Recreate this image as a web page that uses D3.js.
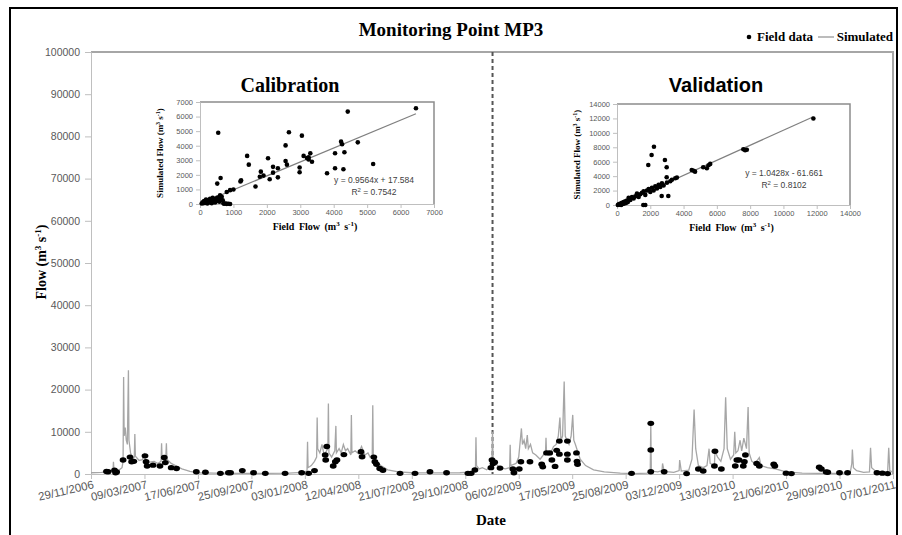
<!DOCTYPE html>
<html>
<head>
<meta charset="utf-8">
<script src="https://cdn.jsdelivr.net/npm/d3@7"></script>
<style>
  body { margin: 0; background: #fff; }
  svg { display: block; }
  .serif { font-family: "Liberation Serif", "Times New Roman", serif; font-weight: bold; fill: #000; }
  .tick text { font-family: "Liberation Sans", Arial, sans-serif; fill: #595959; }
  .domain, .tick line { stroke: #bfbfbf; }
</style>
</head>
<body>
<svg id="chart" width="902" height="535"></svg>
<script>
// ---- data ----
// simulated flow: [days since 29/11/2006, m3/s]
const simulated = [
  [0,300],[20,400],[35,600],[41,500],[42,2900],[43,900],[50,700],[58,1500],[60,3000],[61,23000],[62,9000],
  [64,11000],[66,8000],[68,7000],[70,24600],[71,8000],[74,5000],[78,3500],[81,4000],[82,9500],[83,4200],
  [90,3200],[96,3400],[100,4600],[102,3000],[110,2800],[118,3000],[125,2500],[131,3000],[132,7300],[133,3500],
  [138,3400],[140,4000],[141,7300],[142,3500],[150,2500],[158,2000],[170,1200],[185,600],[200,300],[230,200],
  [280,150],[330,150],[370,200],[395,400],[404,700],[405,7650],[406,1500],[412,2000],[418,3000],[422,4000],
  [423,13400],[424,6000],[428,5000],[432,7000],[436,4500],[443,6000],[444,16700],[445,5000],[450,4000],
  [456,5500],[458,11400],[459,5000],[464,6000],[468,5000],[472,7000],[476,5500],[480,6000],[486,4500],
  [487,14000],[488,5000],[494,5500],[500,4800],[506,6500],[512,4500],[518,5000],[522,4000],[526,4500],
  [527,16300],[528,4000],[534,3000],[542,2000],[555,1000],[575,500],[600,300],[640,250],[690,300],[715,500],
  [719,800],[720,8700],[721,2000],[726,1200],[732,1500],[740,1000],[748,1800],[750,4000],[751,10000],
  [752,3500],[756,2500],[765,1500],[775,1200],[783,1500],[784,6900],[785,2000],[795,2500],[800,4000],
  [805,10800],[807,7000],[810,8000],[813,6000],[816,9200],[818,6000],[822,7000],[826,5000],[832,4500],
  [840,3500],[846,4500],[850,5000],[851,8600],[852,5000],[858,4500],[865,6500],[870,7000],[874,9000],
  [877,13400],[879,8000],[882,9000],[885,21900],[887,9000],[890,8000],[894,7000],[898,9000],[901,14000],
  [903,8000],[906,7000],[910,5400],[915,3500],[925,2000],[940,1000],[960,500],[990,200],[1015,100],
  [1040,200],[1046,800],[1047,12000],[1048,700],[1060,500],[1068,800],[1069,2500],[1072,600],[1090,400],
  [1100,800],[1101,3300],[1104,700],[1118,900],[1124,3500],[1128,15300],[1131,6000],[1136,2000],[1145,1500],
  [1152,2000],[1156,6000],[1158,2500],[1166,2000],[1167,5400],[1172,4000],[1178,3000],[1184,6000],
  [1187,18200],[1190,6000],[1196,3500],[1202,4500],[1204,10000],[1206,5000],[1210,5500],[1214,8000],
  [1217,5500],[1221,8500],[1226,6000],[1229,15900],[1231,5000],[1236,3000],[1242,2500],[1250,3900],
  [1253,2000],[1265,1500],[1280,1200],[1300,500],[1330,200],[1360,150],[1400,150],[1420,300],[1423,2500],
  [1424,5800],[1426,1500],[1432,800],[1445,400],[1456,500],[1458,6200],[1460,1500],[1468,600],[1480,400],
  [1490,500],[1492,6200],[1494,800],[1500,400]
]

// field measurements: [days since 29/11/2006, m3/s]
const fieldData = [
  [29,600],[32,550],[44,900],[46,300],[48,500],[60,3300],[73,4000],[76,2900],[80,3000],[101,4300],[103,2900],
  [105,1900],[116,2100],[129,1900],[137,3900],[139,2700],[150,1500],[160,1300],[197,550],[214,400],
  [242,150],[257,300],[261,300],[283,800],[304,300],[326,150],[363,150],[394,300],[407,150],[418,800],
  [438,4500],[439,3300],[441,6500],[453,1900],[457,2900],[460,3300],[473,4600],[505,5300],[507,4100],
  [529,4000],[531,2900],[534,2300],[540,1300],[546,900],[578,150],[606,150],[634,550],[665,300],[705,150],
  [711,150],[718,950],[748,1500],[750,3300],[752,2500],[755,2800],[765,1400],[789,1200],[791,300],
  [801,1200],[804,2900],[821,2900],[843,2300],[845,1700],[852,5000],[858,5000],[862,3300],[868,1800],
  [871,5600],[876,7800],[876,4700],[891,7800],[891,4700],[891,3300],[908,5000],[909,3000],[910,2300],
  [1011,150],[1047,12000],[1047,5700],[1047,550],[1072,550],[1114,100],[1136,1200],[1145,700],[1167,5400],
  [1166,1900],[1179,1200],[1205,1900],[1208,3300],[1212,3300],[1220,1900],[1222,2900],[1224,4500],
  [1245,2500],[1250,1900],[1277,2300],[1279,1900],[1300,200],[1310,100],[1362,1600],[1366,1200],
  [1375,500],[1378,400],[1400,300],[1415,300],[1470,300],[1480,200],[1490,100]
]

const startDate = "29/11/2006"
const splitDay = 751            // calibration | validation boundary
const yTicksMain = [0,10000,20000,30000,40000,50000,60000,70000,80000,90000,100000]

// scatter insets: [field flow, simulated flow]
const calibration = [
  [50,30],[80,120],[100,50],[120,200],[150,80],[180,300],[200,150],[220,40],[250,250],[270,100],[300,350],
  [320,180],[350,60],[380,420],[400,250],[420,320],[450,100],[480,380],[500,200],[520,450],[550,300],
  [580,150],[600,600],[620,400],[650,500],[680,250],[700,50],[720,20],[760,30],[800,10],[850,20],[900,0],
  [800,820],[900,950],[1000,1000],[545,4890],[516,1400],[616,1780],[1410,3300],[1460,2700],[1210,1550],
  [1230,1620],[1660,1200],[1820,2220],[1790,1870],[1900,1950],[2035,3140],[2085,1700],[2185,2150],
  [2185,2550],[2330,1830],[2330,2450],[2560,4020],[2600,2700],[2560,2950],[2660,4920],[2980,2510],
  [2980,2180],[3048,4690],[3100,3300],[3200,3150],[3250,3050],[3300,3480],[3350,2900],[3250,3200],
  [3800,2110],[4040,3480],[4040,2450],[4220,4280],[4250,4100],[4290,2380],[4320,3550],[4420,6340],
  [4720,4230],[5180,2750],[6460,6570]
]
const validation = [
  [50,0],[100,100],[150,50],[200,200],[250,0],[300,300],[350,150],[400,400],[450,200],[500,500],[550,300],
  [600,600],[650,400],[700,1000],[800,700],[900,1100],[1000,900],[1100,1200],[1200,1600],[1300,1100],
  [1400,1500],[1500,1700],[1580,0],[1700,0],[1600,1900],[1700,1400],[1800,2000],[1880,5540],[1900,2200],
  [2000,1800],[2080,6930],[2100,2400],[2200,2000],[2220,8080],[2300,2600],[2400,2300],[2500,2800],
  [2600,2500],[2685,1250],[2700,3000],[2800,2700],[2880,6240],[2985,5230],[2985,3840],[3000,3100],
  [3083,1250],[3200,3300],[3300,3500],[3500,3700],[3600,3800],[4490,4850],[4690,4620],[4600,4750],
  [5180,5230],[5400,5100],[5600,5700],[5500,5500],[7590,7720],[7700,7600],[7800,7650],[11800,12000]
]
const calibFit = { slope: 0.9564, icpt: 17.584, r2: "0.7542" }
const validFit = { slope: 1.0428, icpt: -61.661, r2: "0.8102" }
const calibTicks = [0,1000,2000,3000,4000,5000,6000,7000]
const validTicks = [0,2000,4000,6000,8000,10000,12000,14000]

// ---- drawing ----
const svg = d3.select("#chart")
const parse = d3.utcParse("%d/%m/%Y")
const t0 = parse(startDate)
const day = (d) => d3.utcDay.offset(t0, d)
const plain = d3.format("d")

// outer frame
svg.append("rect").attr("x", 10).attr("y", 8).attr("width", 887).attr("height", 540)
  .attr("fill", "none").attr("stroke", "#000").attr("stroke-width", 2)

const x = d3.scaleUtc().domain([t0, day(1500)]).range([91, 893])
const y = d3.scaleLinear().domain([0, 100000]).range([474, 52])

// plot border (top + right)
svg.append("path").attr("d", `M91,52H893V474`).attr("fill", "none").attr("stroke", "#a6a6a6").attr("stroke-width", 2)

const xAxis = svg.append("g").attr("transform", "translate(0,474)")
  .call(d3.axisBottom(x).tickValues(d3.range(0, 1501, 100).map(day)).tickSize(5).tickFormat(d3.utcFormat("%d/%m/%Y")))
xAxis.selectAll("text").attr("font-size", 11.5).attr("text-anchor", "end")
  .attr("dy", 0).attr("y", 0).attr("transform", "translate(3,14) rotate(-13)")

const yAxis = svg.append("g").attr("transform", "translate(91,0)")
  .call(d3.axisLeft(y).tickValues(yTicksMain).tickSize(6).tickPadding(5).tickFormat(plain))
yAxis.selectAll("text").attr("font-size", 10.5)

// split line
svg.append("line").attr("x1", x(day(splitDay))).attr("x2", x(day(splitDay)))
  .attr("y1", 52).attr("y2", 474).attr("stroke", "#555").attr("stroke-width", 2).attr("stroke-dasharray", "4,3")

// simulated series
const line = d3.line().x((d) => x(day(d[0]))).y((d) => y(d[1]))
svg.append("path").datum(simulated).attr("d", line)
  .attr("fill", "none").attr("stroke", "#a6a6a6").attr("stroke-width", 1.3)

// field points
svg.append("g").selectAll("ellipse").data(fieldData).join("ellipse")
  .attr("cx", (d) => x(day(d[0]))).attr("cy", (d) => y(d[1]))
  .attr("rx", 3.4).attr("ry", 2.7).attr("fill", "#000")

// titles
svg.append("text").attr("class", "serif").attr("x", 451).attr("y", 36)
  .attr("text-anchor", "middle").attr("font-size", 19).text("Monitoring Point MP3")
svg.append("text").attr("class", "serif").attr("x", 491).attr("y", 525)
  .attr("text-anchor", "middle").attr("font-size", 15).text("Date")
const yt = svg.append("text").attr("class", "serif").attr("transform", "translate(46,262) rotate(-90)")
  .attr("text-anchor", "middle").attr("font-size", 14)
yt.append("tspan").text("Flow (m")
yt.append("tspan").attr("font-size", 9).attr("dy", -5).text("3")
yt.append("tspan").attr("dy", 5).text(" s")
yt.append("tspan").attr("font-size", 9).attr("dy", -5).text("-1")
yt.append("tspan").attr("dy", 5).text(")")

// legend
svg.append("text").attr("class", "serif").attr("x", 893).attr("y", 41).attr("text-anchor", "end")
  .attr("font-size", 13).text("Simulated")
svg.append("line").attr("x1", 818).attr("x2", 834).attr("y1", 37).attr("y2", 37).attr("stroke", "#a6a6a6").attr("stroke-width", 1.5)
svg.append("text").attr("class", "serif").attr("x", 813).attr("y", 41).attr("text-anchor", "end")
  .attr("font-size", 13).text("Field data")
svg.append("circle").attr("cx", 749).attr("cy", 37).attr("r", 2.3).attr("fill", "#000")

// ---- inset scatter plots ----
function inset(cfg) {
  const { data, fit, ticks, max, xr, yr, title, titleX, titleFont, eqX, eqY } = cfg
  const sx = d3.scaleLinear().domain([0, max]).range(xr)
  const sy = d3.scaleLinear().domain([0, max]).range(yr)
  const g = svg.append("g")

  g.append("path").attr("d", `M${xr[0]},${yr[1]}H${xr[1]}V${yr[0]}`)
    .attr("fill", "none").attr("stroke", "#8c8c8c").attr("stroke-width", 1.5)

  const ax = g.append("g").attr("transform", `translate(0,${yr[0]})`)
    .call(d3.axisBottom(sx).tickValues(ticks).tickSize(4).tickPadding(2).tickFormat(plain))
  ax.selectAll("text").attr("font-size", 7.5)
  const ay = g.append("g").attr("transform", `translate(${xr[0]},0)`)
    .call(d3.axisLeft(sy).tickValues(ticks).tickSize(4).tickPadding(3).tickFormat(plain))
  ay.selectAll("text").attr("font-size", 7.5)

  const maxX = d3.max(data, (d) => d[0])
  const x1 = Math.max(0, -fit.icpt / fit.slope)
  g.append("line").attr("x1", sx(x1)).attr("y1", sy(fit.slope * x1 + fit.icpt))
    .attr("x2", sx(maxX)).attr("y2", sy(fit.slope * maxX + fit.icpt))
    .attr("stroke", "#7f7f7f").attr("stroke-width", 1.2)

  g.append("g").selectAll("circle").data(data).join("circle")
    .attr("cx", (d) => sx(d[0])).attr("cy", (d) => sy(d[1])).attr("r", 2.3).attr("fill", "#000")

  const sign = fit.icpt < 0 ? " - " : " + "
  g.append("text").attr("x", eqX).attr("y", eqY).attr("text-anchor", "middle")
    .attr("font-family", "Liberation Sans, Arial, sans-serif").attr("font-size", 8.5).attr("fill", "#404040")
    .text(`y = ${fit.slope}x${sign}${Math.abs(fit.icpt)}`)
  const r2 = g.append("text").attr("x", eqX).attr("y", eqY + 12).attr("text-anchor", "middle")
    .attr("font-family", "Liberation Sans, Arial, sans-serif").attr("font-size", 8.5).attr("fill", "#404040")
  r2.append("tspan").text("R")
  r2.append("tspan").attr("font-size", 6).attr("dy", -3).text("2")
  r2.append("tspan").attr("dy", 3).text(` = ${fit.r2}`)

  // axis titles
  const cx = (xr[0] + xr[1]) / 2
  const xt = g.append("text").attr("class", "serif").attr("x", cx - 2).attr("y", yr[0] + 26)
    .attr("text-anchor", "middle").attr("font-size", 10).attr("word-spacing", 2)
  xt.append("tspan").text("Field Flow  (m")
  xt.append("tspan").attr("font-size", 7).attr("dy", -4).text("3")
  xt.append("tspan").attr("dy", 4).text(" s")
  xt.append("tspan").attr("font-size", 7).attr("dy", -4).text("-1")
  xt.append("tspan").attr("dy", 4).text(")")

  const yl = g.append("text").attr("class", "serif")
    .attr("transform", `translate(${xr[0] - 37},${(yr[0] + yr[1]) / 2}) rotate(-90)`)
    .attr("text-anchor", "middle").attr("font-size", 9)
  yl.append("tspan").text("Simulated Flow  (m")
  yl.append("tspan").attr("font-size", 6).attr("dy", -3).text("3")
  yl.append("tspan").attr("dy", 3).text(" s")
  yl.append("tspan").attr("font-size", 6).attr("dy", -3).text("-1")
  yl.append("tspan").attr("dy", 3).text(")")

  g.append("text").attr("x", titleX).attr("y", 92).attr("text-anchor", "middle")
    .attr("font-family", titleFont).attr("font-weight", "bold").attr("font-size", 20).text(title)
}

inset({ data: calibration, fit: calibFit, ticks: calibTicks, max: 7000, xr: [200, 434], yr: [204, 102],
  title: "Calibration", titleX: 290, titleFont: "Liberation Serif, serif", eqX: 374, eqY: 183 })
inset({ data: validation, fit: validFit, ticks: validTicks, max: 14000, xr: [617, 850], yr: [205, 104],
  title: "Validation", titleX: 716, titleFont: "Liberation Sans, Arial, sans-serif", eqX: 784, eqY: 176 })
</script>
</body>
</html>
